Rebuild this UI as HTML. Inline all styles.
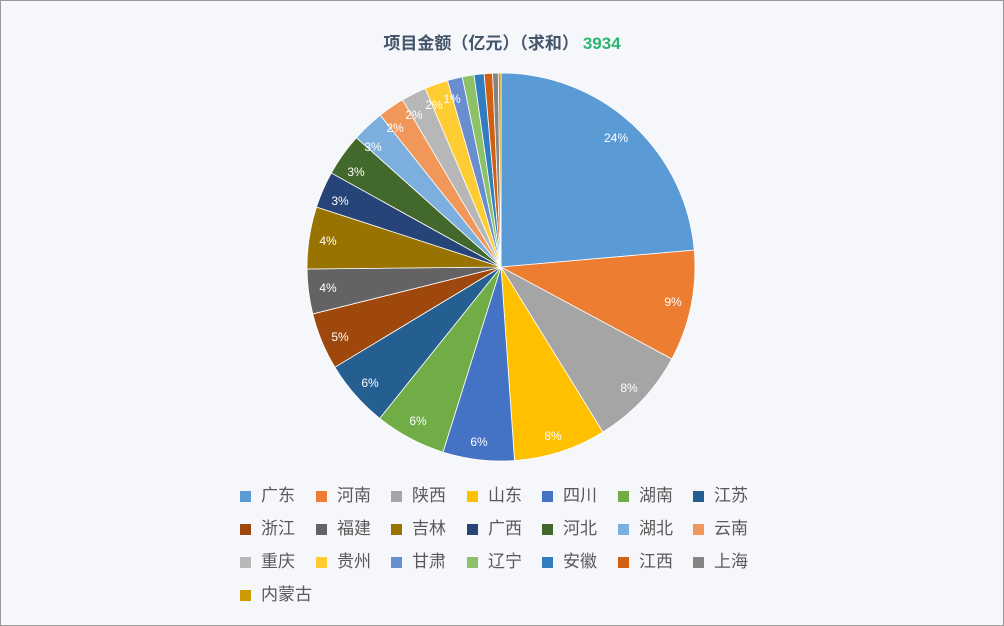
<!DOCTYPE html>
<html><head><meta charset="utf-8">
<style>
html,body{margin:0;padding:0;}
body{width:1004px;height:626px;background:#f5f7fa;position:relative;overflow:hidden;font-family:"Liberation Sans","Noto Sans CJK SC",sans-serif;}
#frame{position:absolute;left:0;top:0;width:1002px;height:624px;border:1px solid #9a9a9a;}
#title{position:absolute;left:0;width:1004px;top:29px;text-align:center;font-size:17px;font-weight:bold;color:#44546a;}
#title span{color:#2bb673;margin-left:4px;}
.lg{position:absolute;font-size:17px;color:#595959;line-height:20px;}
.lg i{position:absolute;left:-21px;top:5px;width:11px;height:11px;}
</style></head><body>
<div id="frame"></div>
<div id="title">项目金额（亿元）（求和）<span>3934</span></div>
<svg id="pie" width="1004" height="626" style="position:absolute;left:0;top:0"></svg>
<div id="legend"></div>
<script>
var data=[
["广东","#5b9bd5",85],["河南","#ed7d31",118.3],["陕西","#a5a5a5",148.3],["山东","#ffc000",176],
["四川","#4472c4",197.4],["湖南","#70ad47",218.7],["江苏","#255e91",238.9],["浙江","#9e480e",256],
["福建","#636363",269.4],["吉林","#997300",288],["广西","#264478",299],["河北","#43682b",311.8],
["湖北","#7cafdd",321.5],["云南","#f1975a",329.5],["重庆","#b7b7b7",337],["贵州","#ffcd33",344],
["甘肃","#698ed0",348.5],["辽宁","#8cc168",352],["安徽","#327dc2",355],["江西","#d26012",357.5],
["上海","#848484",359.2],["内蒙古","#cc9a00",360]];
var cx=501,cy=267,r=194,s='',a0=0;
function pt(a){var t=a*Math.PI/180;return [cx+r*Math.sin(t),cy-r*Math.cos(t)];}
data.forEach(function(d){var p0=pt(a0),p1=pt(d[2]);var lg=(d[2]-a0)>180?1:0;
s+='<path d="M'+cx+','+cy+' L'+p0[0].toFixed(2)+','+p0[1].toFixed(2)+' A'+r+','+r+' 0 '+lg+' 1 '+p1[0].toFixed(2)+','+p1[1].toFixed(2)+' Z" fill="'+d[1]+'" stroke="#fff" stroke-width="0.8"/>';a0=d[2];});
var labs=[["24%",616,138],["9%",673,302],["8%",629,388],["8%",553,436],["6%",479,442],["6%",418,421],["6%",370,383],["5%",340,337],["4%",328,288],["4%",328,241],["3%",340,201],["3%",356,172],["3%",373,147],["2%",395,128],["2%",414,115],["2%",434,105],["1%",452,99]];
labs.forEach(function(l){s+='<text x="'+l[1]+'" y="'+(l[2]+4)+'" fill="#fff" font-size="12" text-anchor="middle" font-family="Liberation Sans, sans-serif">'+l[0]+'</text>';});
document.getElementById('pie').innerHTML=s;
var h='',xs=[261,337,412,488,563,639,714],ys=[486,519,552,585];
data.forEach(function(d,i){h+='<div class="lg" style="left:'+xs[i%7]+'px;top:'+ys[Math.floor(i/7)]+'px"><i style="background:'+d[1]+'"></i>'+d[0]+'</div>';});
document.getElementById('legend').innerHTML=h;
</script>
</body></html>
